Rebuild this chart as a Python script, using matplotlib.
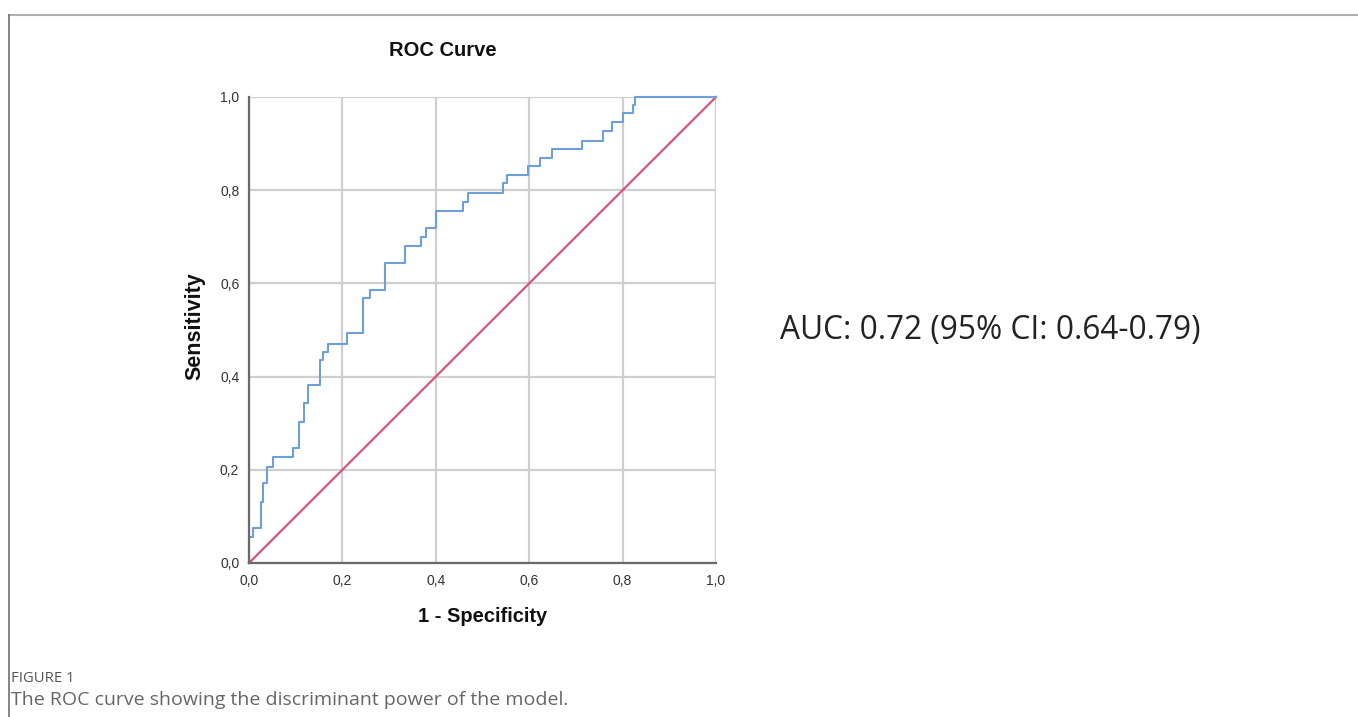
import numpy as np
import matplotlib.pyplot as plt
from matplotlib.lines import Line2D

# ROC curve: x position of each vertical step and the sensitivity it reaches
fpr = [0.0, 0.0, 0.009, 0.025, 0.031, 0.038, 0.052, 0.095, 0.108, 0.118, 0.127,
       0.152, 0.158, 0.170, 0.209, 0.245, 0.259, 0.291, 0.334, 0.368, 0.379,
       0.400, 0.458, 0.470, 0.543, 0.552, 0.598, 0.623, 0.648, 0.714, 0.757,
       0.777, 0.801, 0.822, 0.826, 1.0]
tpr = [0.0, 0.056, 0.075, 0.130, 0.171, 0.207, 0.228, 0.246, 0.303, 0.343, 0.382,
       0.436, 0.453, 0.471, 0.493, 0.568, 0.586, 0.643, 0.681, 0.699, 0.718,
       0.756, 0.775, 0.794, 0.815, 0.833, 0.852, 0.870, 0.888, 0.906, 0.928,
       0.946, 0.965, 0.983, 1.0, 1.0]
ref_line = [0.0, 1.0]
ticks = [0.0, 0.2, 0.4, 0.6, 0.8, 1.0]
tick_labels = ["0,0", "0,2", "0,4", "0,6", "0,8", "1,0"]

W, H = 1358, 717
fig = plt.figure(figsize=(W / 100, H / 100), dpi=100)

# page frame (top rule and left rule)
fig.add_artist(Line2D([9 / W, 1], [1 - 15 / H, 1 - 15 / H], color="#b0b0b0", lw=1.5))
fig.add_artist(Line2D([9 / W, 9 / W], [0, 1 - 15 / H], color="#707070", lw=1.2))

ax = fig.add_axes([249 / W, 1 - 563 / H, 467 / W, 466 / H])
ax.set_xlim(0, 1)
ax.set_ylim(0, 1)
ax.set_xticks(ticks)
ax.set_yticks(ticks)
ax.set_xticklabels(tick_labels)
ax.set_yticklabels(tick_labels)
ax.grid(True, color="#cfcfcf", lw=1.6)
ax.set_axisbelow(True)
for s in ["top", "right"]:
    ax.spines[s].set_visible(False)
for s in ["left", "bottom"]:
    ax.spines[s].set_color("#6a6a6a")
    ax.spines[s].set_linewidth(1.6)
ax.tick_params(length=0, labelsize=10, labelcolor="#333333")
ax.tick_params(axis="x", pad=8)
ax.tick_params(axis="y", pad=7)
for lab in ax.get_xticklabels() + ax.get_yticklabels():
    lab.set_family("Liberation Sans")

ax.plot(ref_line, ref_line, color="#d6557a", lw=1.6, clip_on=False)
ax.plot(fpr, tpr, color="#6f9fd8", lw=1.5, drawstyle="steps-post", clip_on=False)

fig.text(443 / W, 1 - 50 / H, "ROC Curve", ha="center", va="center",
         family="Liberation Sans", weight="bold", fontsize=14.5, color="#111111")
fig.text(483 / W, 1 - 617 / H, "1 - Specificity", ha="center", va="center",
         family="Liberation Sans", weight="bold", fontsize=14.5, color="#111111")
fig.text(195 / W, 1 - 326 / H, "Sensitivity", ha="center", va="center", rotation=90,
         family="Liberation Sans", weight="bold", fontsize=15.5, color="#111111")

fig.text(780 / W, 1 - 330 / H, "AUC: 0.72 (95% CI: 0.64-0.79)", ha="left", va="center",
         family="Open Sans", fontsize=22.8, color="#222222")

fig.text(11 / W, 1 - 678 / H, "FIGURE 1", ha="left", va="center",
         family="Open Sans", fontsize=10.7, color="#555555")
fig.text(11 / W, 1 - 700 / H, "The ROC curve showing the discriminant power of the model.",
         ha="left", va="center", family="Open Sans", fontsize=14, color="#666666")

fig.savefig("out.png", dpi=100)
